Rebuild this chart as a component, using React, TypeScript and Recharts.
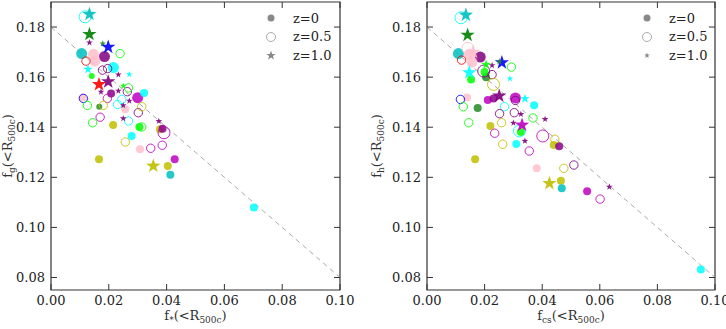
import React from 'react';
import { ScatterChart, Scatter, XAxis, YAxis, ReferenceLine, ReferenceArea, Legend } from 'recharts';

type P = [number, number, string, number];

// ---------- data ----------
const xTicks = [0, 0.02, 0.04, 0.06, 0.08, 0.1];
const yTicks = [0.08, 0.1, 0.12, 0.14, 0.16, 0.18];
const xDomain: [number, number] = [0, 0.1];
const yDomain: [number, number] = [0.075, 0.19];
const fitLine = [{ x: 0, y: 0.18 }, { x: 0.1, y: 0.08 }];
const redshiftLabels = ['z=0', 'z=0.5', 'z=1.0'];

// [x, y, halo colour key, mass class]
const leftZ0: P[] = [
  [0.0106, 0.1694, 'c', 3], [0.0185, 0.1682, 'purple', 3], [0.0216, 0.1638, 'cyan', 3],
  [0.0147, 0.1691, 'pink', 3], [0.0152, 0.1664, 'pink', 3], [0.0141, 0.1605, 'lime', 1],
  [0.0208, 0.1535, 'dm', 2], [0.0300, 0.1518, 'm', 3], [0.0322, 0.1537, 'cyan', 2],
  [0.0167, 0.1482, 'fg', 1], [0.0110, 0.1519, 'pink', 2], [0.0257, 0.1472, 'pink', 2],
  [0.0215, 0.1409, 'y', 2], [0.0306, 0.1401, 'lime', 2], [0.0279, 0.1365, 'cyan', 2],
  [0.0308, 0.1312, 'pink', 2], [0.0166, 0.1272, 'y', 2], [0.0404, 0.1245, 'y', 2],
  [0.0428, 0.1272, 'm', 2], [0.0413, 0.1210, 'c', 2], [0.0702, 0.1079, 'cyan', 2],
  [0.0377, 0.1392, 'y', 2], [0.0386, 0.1394, 'dm', 2],
];
const leftZ05: P[] = [
  [0.0118, 0.1841, 'cyan', 3], [0.0239, 0.1694, 'lime', 2], [0.0121, 0.1664, 'r', 2],
  [0.0178, 0.1628, 'purple', 2], [0.0196, 0.1634, 'purple', 2], [0.0112, 0.1515, 'b', 2],
  [0.0126, 0.1487, 'lime', 2], [0.0144, 0.1418, 'lime', 2], [0.0170, 0.1440, 'm', 2],
  [0.0195, 0.1515, 'm', 2], [0.0230, 0.1491, 'cyan', 2], [0.0245, 0.1511, 'cyan', 2],
  [0.0264, 0.1542, 'purple', 2], [0.0268, 0.1557, 'lime', 2], [0.0302, 0.1458, 'purple', 2],
  [0.0314, 0.1482, 'y', 2], [0.0268, 0.1425, 'cyan', 2], [0.0257, 0.1341, 'y', 2],
  [0.0345, 0.1316, 'm', 2], [0.0385, 0.1328, 'm', 2], [0.0391, 0.1378, 'm', 3],
  [0.0314, 0.1401, 'lime', 2], [0.0181, 0.1487, 'y', 2],
];
const leftZ1: P[] = [
  [0.0133, 0.1851, 'c', 3], [0.0133, 0.1771, 'g', 3], [0.0133, 0.1738, 'purple', 1],
  [0.0179, 0.1734, 'fg', 1], [0.0198, 0.1720, 'b', 3], [0.0128, 0.1631, 'cyan', 2],
  [0.0166, 0.1571, 'r', 3], [0.0198, 0.1582, 'purple', 3], [0.0233, 0.1610, 'purple', 1],
  [0.0271, 0.1611, 'cyan', 1], [0.0250, 0.1565, 'lime', 1], [0.0173, 0.1541, 'purple', 1],
  [0.0233, 0.1545, 'purple', 1], [0.0271, 0.1505, 'purple', 1], [0.0250, 0.1487, 'purple', 1],
  [0.0250, 0.1435, 'purple', 1], [0.0373, 0.1424, 'purple', 1], [0.0354, 0.1245, 'y', 3],
];

const rightZ0: P[] = [
  [0.0109, 0.1694, 'c', 3], [0.0185, 0.1680, 'purple', 3], [0.0147, 0.1691, 'pink', 3],
  [0.0156, 0.1660, 'pink', 3], [0.0153, 0.1591, 'lime', 2], [0.0176, 0.1477, 'fg', 2],
  [0.0139, 0.1519, 'pink', 2], [0.0211, 0.1509, 'm', 2], [0.0231, 0.1515, 'dm', 2],
  [0.0307, 0.1517, 'm', 3], [0.0372, 0.1488, 'cyan', 2], [0.0220, 0.1405, 'y', 2],
  [0.0326, 0.1381, 'lime', 2], [0.0310, 0.1333, 'cyan', 2], [0.0440, 0.1329, 'y', 2],
  [0.0459, 0.1324, 'dm', 2], [0.0167, 0.1272, 'y', 2], [0.0381, 0.1236, 'pink', 2],
  [0.0465, 0.1186, 'y', 2], [0.0468, 0.1156, 'c', 2], [0.0556, 0.1144, 'm', 2],
  [0.0951, 0.0832, 'cyan', 2], [0.0205, 0.1600, 'fg', 2], [0.0200, 0.1620, 'lime', 2],
];
const rightZ05: P[] = [
  [0.0118, 0.1837, 'cyan', 3], [0.0142, 0.1715, 'pink', 3], [0.0120, 0.1668, 'r', 2],
  [0.0197, 0.1624, 'purple', 3], [0.0226, 0.1610, 'purple', 2], [0.0293, 0.1640, 'lime', 2],
  [0.0231, 0.1571, 'y', 3], [0.0116, 0.1511, 'b', 2], [0.0126, 0.1482, 'lime', 2],
  [0.0145, 0.1418, 'lime', 2], [0.0269, 0.1482, 'cyan', 2], [0.0252, 0.1454, 'purple', 2],
  [0.0303, 0.1458, 'purple', 2], [0.0259, 0.1418, 'y', 2], [0.0235, 0.1376, 'm', 2],
  [0.0263, 0.1332, 'y', 2], [0.0321, 0.1385, 'cyan', 3], [0.0368, 0.1437, 'lime', 2],
  [0.0402, 0.1365, 'm', 3], [0.0444, 0.1352, 'y', 2], [0.0355, 0.1305, 'm', 2],
  [0.0510, 0.1249, 'purple', 2], [0.0475, 0.1236, 'y', 2], [0.0601, 0.1113, 'm', 2],
  [0.0307, 0.1507, 'purple', 2],
];
const rightZ1: P[] = [
  [0.0135, 0.1848, 'c', 3], [0.0141, 0.1768, 'g', 3], [0.0160, 0.1700, 'pink', 3],
  [0.0147, 0.1618, 'cyan', 3], [0.0260, 0.1658, 'b', 3], [0.0251, 0.1662, 'fg', 1],
  [0.0226, 0.1647, 'purple', 1], [0.0288, 0.1594, 'cyan', 1], [0.0251, 0.1525, 'purple', 3],
  [0.0340, 0.1514, 'cyan', 2], [0.0326, 0.1452, 'purple', 1], [0.0300, 0.1417, 'purple', 1],
  [0.0330, 0.1409, 'm', 3], [0.0410, 0.1432, 'purple', 1], [0.0340, 0.1345, 'purple', 1],
  [0.0425, 0.1176, 'y', 3], [0.0633, 0.1162, 'purple', 1], [0.0205, 0.1650, 'lime', 2],
];

// ---------- styles ----------
const palette: Record<string, string> = {
  c: '#00bfbf', purple: '#800080', cyan: '#00ffff', pink: '#ffc0cb', lime: '#00ff00',
  dm: '#8b008b', m: '#bf00bf', fg: '#228b22', y: '#bfbf00', r: '#ff0000', b: '#0000ff', g: '#008000',
};
const R_FILLED: Record<number, number> = { 1: 3, 2: 4, 3: 5.5 };
const R_OPEN: Record<number, number> = { 1: 3.5, 2: 4.2, 3: 6 };
const R_STAR: Record<number, number> = { 1: 3.5, 2: 5, 3: 7.5 };
const FONT = 'DejaVu Serif, Liberation Serif, serif';
const TEXT = '#222';
const FRAME = '#333';

const rows = (a: P[]) => a.map(([x, y, k, s]) => ({ x, y, k, s }));

function starPath(cx: number, cy: number, R: number) {
  const r = R * 0.4;
  let d = '';
  for (let i = 0; i < 10; i++) {
    const ang = -Math.PI / 2 + (i * Math.PI) / 5;
    const rad = i % 2 === 0 ? R : r;
    d += (i === 0 ? 'M' : 'L') + (cx + rad * Math.cos(ang)).toFixed(2) + ',' + (cy + rad * Math.sin(ang)).toFixed(2);
  }
  return d + 'Z';
}

const filledShape = (p: any) => (
  <circle cx={p.cx} cy={p.cy} r={R_FILLED[p.payload.s]} fill={palette[p.payload.k]} fillOpacity={0.85} />
);
const openShape = (p: any) => (
  <circle cx={p.cx} cy={p.cy} r={R_OPEN[p.payload.s]} fill="none" stroke={palette[p.payload.k]} strokeOpacity={0.85} strokeWidth={1} />
);
const starShape = (p: any) => (
  <path d={starPath(p.cx, p.cy, R_STAR[p.payload.s])} fill={palette[p.payload.k]} fillOpacity={0.9} />
);

const PLOT_TOP = 2;
const PLOT_BOTTOM = 290;
const H = 329;

function labelSpans(sub: string) {
  return [
    <tspan key="a">f</tspan>,
    <tspan key="b" dy={3} fontSize={9}>{sub}</tspan>,
    <tspan key="c" dy={-3}>(&lt;R</tspan>,
    <tspan key="d" dy={3} fontSize={9}>500c</tspan>,
    <tspan key="e" dy={-3}>)</tspan>,
  ];
}

type PanelProps = {
  left: number; width: number; yAxisWidth: number; marginRight: number; yLabelX: number;
  z0: P[]; z05: P[]; z1: P[]; xSub: string; ySub: string; legendLeft: number; legendStar: number;
};

function Panel({ left, width, yAxisWidth, marginRight, yLabelX, z0, z05, z1, xSub, ySub, legendLeft, legendStar }: PanelProps) {
  const plotLeft = yAxisWidth;
  const plotRight = width - marginRight;
  const xTick = (p: any) => {
    const x = p.x;
    const v = Number(p.payload.value);
    return (
      <g>
        <line x1={x} x2={x} y1={PLOT_BOTTOM} y2={PLOT_BOTTOM - 6} stroke={FRAME} />
        <line x1={x} x2={x} y1={PLOT_TOP} y2={PLOT_TOP + 6} stroke={FRAME} />
        <text x={x} y={PLOT_BOTTOM + 15} textAnchor="middle" fontFamily={FONT} fontSize={13} fill={TEXT}>{v.toFixed(2)}</text>
      </g>
    );
  };
  const yTick = (p: any) => {
    const y = p.y;
    const v = Number(p.payload.value);
    return (
      <g>
        <line x1={plotLeft} x2={plotLeft + 6} y1={y} y2={y} stroke={FRAME} />
        <line x1={plotRight} x2={plotRight - 6} y1={y} y2={y} stroke={FRAME} />
        <text x={plotLeft - 6} y={y + 4.5} textAnchor="end" fontFamily={FONT} fontSize={13} fill={TEXT}>{v.toFixed(2)}</text>
      </g>
    );
  };
  const xLabel = () => (
    <text x={(plotLeft + plotRight) / 2} y={PLOT_BOTTOM + 30} textAnchor="middle" fontFamily={FONT} fontSize={13} fill="#333">
      {labelSpans(xSub)}
    </text>
  );
  const yCy = (PLOT_TOP + PLOT_BOTTOM) / 2;
  const yLabel = () => (
    <text x={yLabelX} y={yCy} transform={`rotate(-90 ${yLabelX} ${yCy})`} textAnchor="middle" fontFamily={FONT} fontSize={13} fill="#333">
      {labelSpans(ySub)}
    </text>
  );
  const legend = () => (
    <svg width={90} height={62} style={{ display: 'block' }}>
      <circle cx={9} cy={10} r={3.5} fill="#888" />
      <circle cx={9} cy={29} r={4.5} fill="none" stroke="#aaa" />
      <path d={starPath(9, 47.5, legendStar)} fill="#888" />
      {redshiftLabels.map((t, i) => (
        <text key={t} x={31} y={10 + i * 18.5 + 4.5} fontFamily={FONT} fontSize={13} fill={TEXT}>{t}</text>
      ))}
    </svg>
  );
  return (
    <div style={{ position: 'absolute', left, top: 0, width, height: H }}>
      <ScatterChart width={width} height={H} margin={{ top: PLOT_TOP, right: marginRight, left: 0, bottom: 0 }}>
        <XAxis type="number" dataKey="x" domain={xDomain} ticks={xTicks} allowDataOverflow axisLine={false}
          tickLine={false} tickSize={0} tickMargin={0} height={H - PLOT_BOTTOM} tick={xTick} label={xLabel} interval={0} />
        <YAxis type="number" dataKey="y" domain={yDomain} ticks={yTicks} allowDataOverflow axisLine={false}
          tickLine={false} tickSize={0} tickMargin={0} width={yAxisWidth} tick={yTick} label={yLabel} interval={0} />
        <ReferenceLine segment={fitLine} stroke="#aaa" strokeDasharray="5 4" strokeWidth={1} ifOverflow="hidden" />
        <Scatter data={rows(z0)} shape={filledShape} isAnimationActive={false} />
        <Scatter data={rows(z05)} shape={openShape} isAnimationActive={false} />
        <Scatter data={rows(z1)} shape={starShape} isAnimationActive={false} />
        <ReferenceArea x1={xDomain[0]} x2={xDomain[1]} y1={yDomain[0]} y2={yDomain[1]} fill="none" stroke={FRAME} strokeWidth={1.2} ifOverflow="visible" />
        <Legend layout="horizontal" verticalAlign="middle" align="center"
          wrapperStyle={{ position: 'absolute', top: 8, left: legendLeft, width: 90, height: 62 }} content={legend} />
      </ScatterChart>
    </div>
  );
}

export default function App() {
  return (
    <div style={{ position: 'absolute', left: 0, top: 0, width: 726, height: 329, overflow: 'hidden', background: '#fff' }}>
      <Panel left={0} width={363} yAxisWidth={51} marginRight={23} yLabelX={12} z0={leftZ0} z05={leftZ05} z1={leftZ1}
        xSub="*" ySub="g" legendLeft={262} legendStar={5} />
      <Panel left={363} width={363} yAxisWidth={64} marginRight={11} yLabelX={18} z0={rightZ0} z05={rightZ05} z1={rightZ1}
        xSub="cs" ySub="h" legendLeft={275} legendStar={3} />
    </div>
  );
}
